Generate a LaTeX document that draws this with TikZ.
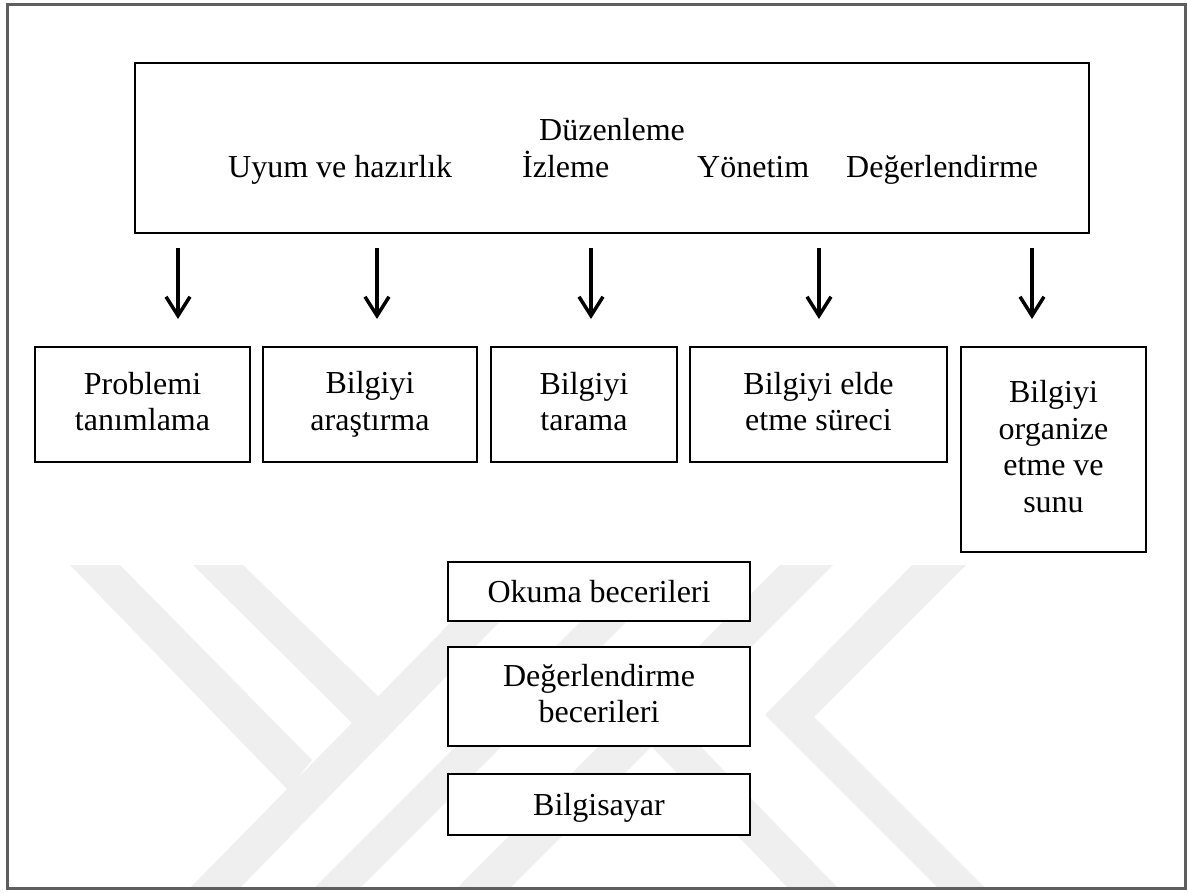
\documentclass[tikz,border=0pt]{standalone}
\usepackage{fontspec}
\setmainfont{Liberation Serif}
\usetikzlibrary{arrows.meta}
\newcommand{\diagfont}{\fontsize{32}{36.5}\selectfont}
\newcommand{\topstrut}{\rule{0pt}{28pt}}
\newcommand{\botstrut}{\rule[-6.5pt]{0pt}{6.5pt}}
\definecolor{markgray}{HTML}{EFEFEF}
\definecolor{framegray}{HTML}{5E5E5E}
\begin{document}
\begin{tikzpicture}[x=1pt,y=-1pt,
  box/.style={draw=black, line width=2.5pt, fill=white, align=center,
              inner sep=0pt, font=\diagfont,
              execute at begin node=\topstrut, execute at end node=\botstrut},
  word/.style={anchor=base west, inner sep=0pt, font=\diagfont},
  arr/.style={line width=3.5pt,
              -{Straight Barb[length=19pt, width=24pt, line width=3.5pt]}},
  emblem/.style={fill=markgray, draw=none}]

% page and outer frame
\fill[white] (0,0) rectangle (1188,893);
\useasboundingbox (0,0) rectangle (1188,893);

% faint background emblem
\begin{scope}
  \clip (9,565) rectangle (1183,886);
  \fill[emblem] (70,565) -- (120,565) -- (312,760) -- (288,790) -- cycle;
  \fill[emblem] (193,565) -- (243,565) -- (379,697) -- (352,723) -- cycle;
  \fill[emblem] (507,565) -- (555,565) -- (240,888) -- (190,888) -- cycle;
  \fill[emblem] (637,565) -- (683,565) -- (360,888) -- (314,888) -- cycle;
  \fill[emblem] (780,565) -- (833,565) -- (510,888) -- (457,888) -- cycle;
  \fill[emblem] (674,719) -- (838,888) -- (788,888) -- (649,744) -- cycle;
  \fill[emblem] (912,565) -- (966,565) -- (814,717) -- (985,888) -- (938,888)
              -- (765,715) -- cycle;
\end{scope}

\draw[framegray, line width=3pt] (7,5) rectangle (1185,888);

% top box with the management stages
\node[box, line width=2.8pt, minimum width=954, minimum height=170]
  (top) at (612,148) {};
\node[word] (t1) at (539,141) {Düzenleme};
\node[word] (t2) at (228,178) {Uyum ve hazırlık};
\node[word] (t3) at (522,178) {İzleme};
\node[word] (t4) at (697,178) {Yönetim};
\node[word] (t5) at (846,178) {Değerlendirme};

% process steps
\node[box, minimum width=215, minimum height=115] (p1) at (142.5,404.5)
  {Problemi\\tanımlama};
\node[box, minimum width=214, minimum height=115] (p2) at (370,404.5)
  {Bilgiyi\\araştırma};
\node[box, minimum width=186, minimum height=115] (p3) at (584,404.5)
  {Bilgiyi\\tarama};
\node[box, minimum width=257, minimum height=115] (p4) at (818.5,404.5)
  {Bilgiyi elde\\etme süreci};
\node[box, minimum width=185, minimum height=205] (p5) at (1053.5,449.5)
  {Bilgiyi\\organize\\etme ve\\sunu};

% supporting skills
\node[box, minimum width=302, minimum height=59] (s1) at (599,591.5)
  {Okuma becerileri};
\node[box, minimum width=302, minimum height=99] (s2) at (599,696.5)
  {Değerlendirme\\becerileri};
\node[box, minimum width=302, minimum height=61] (s3) at (599,804.5)
  {Bilgisayar};

% arrows from the stages down to the steps
\foreach \i/\x in {1/178, 2/377, 3/591, 4/819, 5/1032} {
  \coordinate (a\i) at (\x,248);
  \coordinate (b\i) at (\x,319);
  \draw[arr] (a\i) -- (b\i);
}
\end{tikzpicture}
\end{document}
